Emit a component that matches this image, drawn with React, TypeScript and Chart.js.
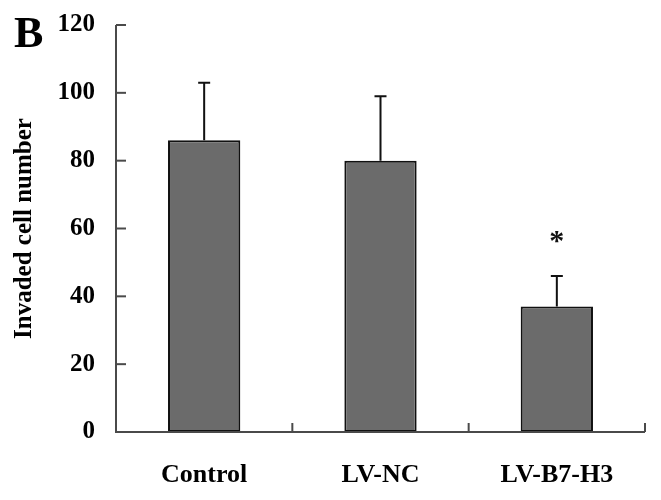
import React, { useEffect, useRef } from "react";
import { Chart, registerables } from "chart.js";

Chart.register(...registerables);

const categories = ["Control", "LV-NC", "LV-B7-H3"];
const means = [86, 80, 37];
const errors = [17, 19, 9];
const marks = ["", "", "*"];
const yTicks = [0, 20, 40, 60, 80, 100, 120];
const panelLabel = "B";
const yTitle = "Invaded cell number";

const FONT = "'Liberation Serif', 'Times New Roman', serif";

const extrasPlugin = {
  id: "extras",
  afterDatasetsDraw(chart: any) {
    const ctx = chart.ctx;
    const x = chart.scales.x;
    const y = chart.scales.y;
    const area = chart.chartArea;
    ctx.save();
    // error bars
    ctx.strokeStyle = "#111";
    ctx.lineWidth = 2;
    means.forEach((m, i) => {
      const cx = x.getPixelForValue(i);
      const yTop = y.getPixelForValue(m);
      const yErr = y.getPixelForValue(m + errors[i]);
      ctx.beginPath();
      ctx.moveTo(cx, yTop);
      ctx.lineTo(cx, yErr);
      ctx.moveTo(cx - 6, yErr);
      ctx.lineTo(cx + 6, yErr);
      ctx.stroke();
      if (marks[i]) {
        ctx.fillStyle = "#111";
        ctx.font = `bold 30px ${FONT}`;
        ctx.textAlign = "center";
        ctx.textBaseline = "middle";
        ctx.fillText(marks[i], cx, yErr - 34);
      }
    });
    // axes
    ctx.strokeStyle = "#4a4a4a";
    ctx.lineWidth = 2;
    ctx.beginPath();
    ctx.moveTo(area.left, y.getPixelForValue(120));
    ctx.lineTo(area.left, area.bottom);
    ctx.lineTo(area.right, area.bottom);
    ctx.stroke();
    // y ticks inward
    yTicks.forEach((v) => {
      const py = y.getPixelForValue(v);
      ctx.beginPath();
      ctx.moveTo(area.left, py);
      ctx.lineTo(area.left + 10, py);
      ctx.stroke();
    });
    // x ticks inward at category boundaries
    for (let i = 1; i <= categories.length; i++) {
      const px = (x.getPixelForValue(i - 1) + x.getPixelForValue(i)) / 2;
      const bx = i === categories.length ? area.right : px;
      ctx.beginPath();
      ctx.moveTo(bx, area.bottom);
      ctx.lineTo(bx, area.bottom - 9);
      ctx.stroke();
    }
    // panel label
    ctx.fillStyle = "#000";
    ctx.font = `bold 44px ${FONT}`;
    ctx.textAlign = "left";
    ctx.textBaseline = "alphabetic";
    ctx.fillText(panelLabel, 14, 47);
    ctx.restore();
  },
};

export default function App() {
  const ref = useRef<HTMLCanvasElement | null>(null);
  useEffect(() => {
    if (!ref.current) return;
    const chart = new Chart(ref.current, {
      type: "bar",
      data: {
        labels: categories,
        datasets: [
          {
            data: means,
            backgroundColor: "#6b6b6b",
            borderColor: "#111",
            borderWidth: 2,
            borderSkipped: false,
            categoryPercentage: 1,
            barPercentage: 0.41,
          },
        ],
      },
      options: {
        animation: false,
        responsive: false,
        maintainAspectRatio: false,
        layout: { padding: { top: 25, right: 16, left: 0, bottom: 0 } },
        plugins: { legend: { display: false }, tooltip: { enabled: false } },
        scales: {
          x: {
            offset: true,
            grid: { display: false, drawTicks: false },
            border: { display: false },
            ticks: {
              color: "#000",
              padding: 28,
              font: { family: FONT, size: 26, weight: "bold" },
            },
            afterFit: (s: any) => {
              s.height = 68;
              s.paddingLeft = 0;
              s.paddingRight = 0;
            },
          },
          y: {
            min: 0,
            max: 120,
            grid: { display: false, drawTicks: false },
            border: { display: false },
            ticks: {
              stepSize: 20,
              color: "#000",
              padding: 21,
              font: { family: FONT, size: 25, weight: "bold" },
            },
            title: {
              display: true,
              text: yTitle,
              color: "#000",
              padding: { top: 10, bottom: 0 },
              font: { family: FONT, size: 25, weight: "bold" },
            },
            afterFit: (s: any) => {
              s.width = 116;
              s.paddingTop = 0;
              s.paddingBottom = 0;
            },
          },
        },
      },
      plugins: [extrasPlugin],
    });
    return () => chart.destroy();
  }, []);
  return (
    <div style={{ position: "fixed", left: 0, top: 0, width: 661, height: 500, background: "#fff" }}>
      <canvas ref={ref} width={661} height={500} style={{ width: 661, height: 500 }} />
    </div>
  );
}
